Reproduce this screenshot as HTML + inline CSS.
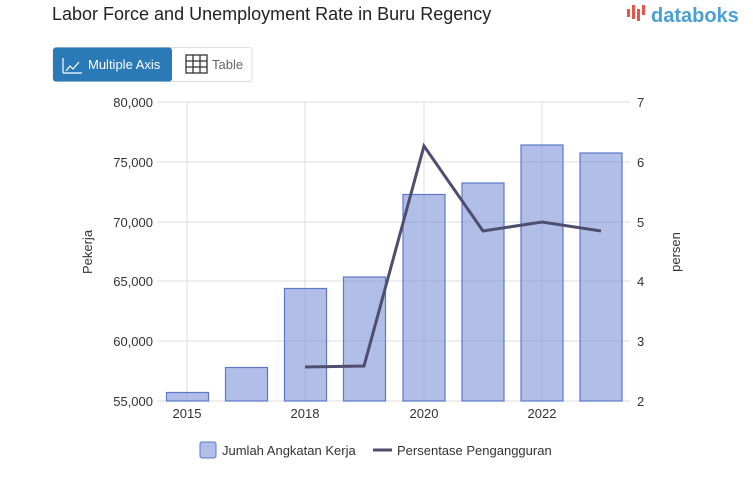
<!DOCTYPE html>
<html><head><meta charset="utf-8"><style>
body{margin:0;background:#fff;font-family:"Liberation Sans",sans-serif;}
</style></head><body>
<svg width="753" height="498" xmlns="http://www.w3.org/2000/svg" font-family="Liberation Sans, sans-serif">
<text x="52" y="20" font-size="18" fill="#222">Labor Force and Unemployment Rate in Buru Regency</text>
<g fill="#e8534a"><rect x="627" y="9" width="3" height="8"/><rect x="632" y="5" width="3" height="14"/><rect x="637" y="9" width="3" height="12"/><rect x="642" y="5" width="3" height="10"/></g>
<text x="651" y="22" font-size="20" fill="#4a9fd5" font-weight="bold">databoks</text>
<rect x="53" y="47.5" width="199" height="34" rx="3" fill="#fff" stroke="#ddd"/>
<rect x="53" y="47.5" width="119" height="34" rx="3" fill="#2a7ab8"/>
<path d="M63 73 V58 M63 73 H82 M66 71 l4-5 3 3 6-7" stroke="#fff" fill="none" stroke-width="1.2"/>
<text x="88" y="69" font-size="13" fill="#fff">Multiple Axis</text>
<g stroke="#333" stroke-width="1.3" fill="none"><rect x="186" y="55" width="21" height="18"/><path d="M193 55V73M200 55V73M186 61H207M186 67H207"/></g>
<text x="212" y="69" font-size="13" fill="#666">Table</text>
<g stroke="#ddd" stroke-width="1">
<line x1="157" y1="102" x2="630" y2="102"/><line x1="157" y1="162" x2="630" y2="162"/><line x1="157" y1="222" x2="630" y2="222"/><line x1="157" y1="281" x2="630" y2="281"/><line x1="157" y1="341" x2="630" y2="341"/><line x1="157" y1="401" x2="630" y2="401"/>
<line x1="187" y1="102" x2="187" y2="401"/><line x1="305" y1="102" x2="305" y2="401"/><line x1="424" y1="102" x2="424" y2="401"/><line x1="542" y1="102" x2="542" y2="401"/>
</g>
<g font-size="13" fill="#333" text-anchor="end">
<text x="153" y="107">80,000</text><text x="153" y="167">75,000</text><text x="153" y="227">70,000</text><text x="153" y="286">65,000</text><text x="153" y="346">60,000</text><text x="153" y="406">55,000</text>
</g>
<g font-size="13" fill="#333">
<text x="637" y="107">7</text><text x="637" y="167">6</text><text x="637" y="227">5</text><text x="637" y="286">4</text><text x="637" y="346">3</text><text x="637" y="406">2</text>
</g>
<g font-size="13" fill="#333" text-anchor="middle">
<text x="187" y="418">2015</text><text x="305" y="418">2018</text><text x="424" y="418">2020</text><text x="542" y="418">2022</text>
</g>
<text transform="translate(92,252) rotate(-90)" font-size="13" fill="#333" text-anchor="middle">Pekerja</text>
<text transform="translate(680,252) rotate(-90)" font-size="13" fill="#333" text-anchor="middle">persen</text>
<g fill="rgba(120,145,215,0.58)" stroke="#5b78cc" stroke-width="1.2">
<rect x="166.5" y="392.5" width="42" height="8.5"/>
<rect x="225.5" y="367.5" width="42" height="33.5"/>
<rect x="284.5" y="288.5" width="42" height="112.5"/>
<rect x="343.5" y="277" width="42" height="124"/>
<rect x="403" y="194.5" width="42" height="206.5"/>
<rect x="462" y="183" width="42" height="218"/>
<rect x="521" y="145" width="42" height="256"/>
<rect x="580" y="153" width="42" height="248"/>
</g>
<polyline points="305,367 364,366 424,146 483,231 542,222 601,231" fill="none" stroke="#4f4e6e" stroke-width="3"/>
<rect x="200" y="442" width="16" height="16" rx="2" fill="rgba(120,145,215,0.58)" stroke="#5b78cc"/>
<text x="222" y="455" font-size="13" fill="#333">Jumlah Angkatan Kerja</text>
<line x1="373" y1="450" x2="392" y2="450" stroke="#4f4e6e" stroke-width="3"/>
<text x="397" y="455" font-size="13" fill="#333">Persentase Pengangguran</text>
</svg>
</body></html>
